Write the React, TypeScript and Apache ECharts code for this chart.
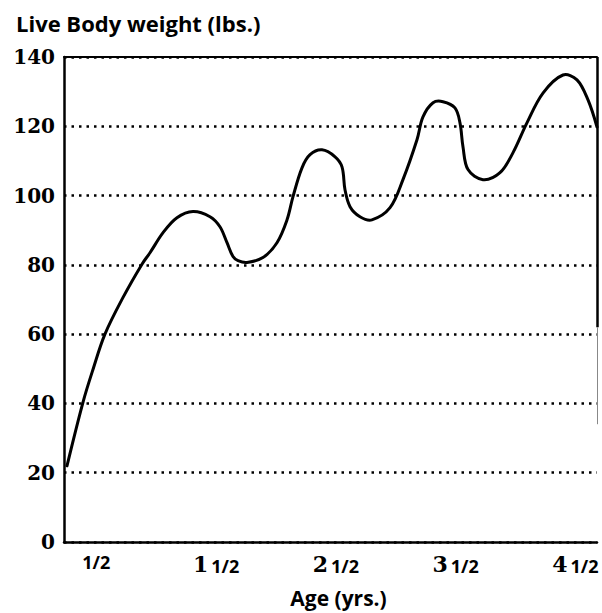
import React, { useEffect, useRef } from "react";
import * as echarts from "echarts";

const ages = [0.255, 0.389, 0.472, 0.572, 0.723, 0.881, 0.948, 1.057, 1.173, 1.307, 1.449, 1.532, 1.591, 1.641, 1.683, 1.758, 1.891, 2.008, 2.092, 2.142, 2.217, 2.284, 2.384, 2.493, 2.551, 2.576, 2.618, 2.701, 2.801, 2.952, 3.06, 3.177, 3.227, 3.311, 3.394, 3.494, 3.536, 3.561, 3.603, 3.728, 3.87, 3.979, 4.095, 4.229, 4.396, 4.513, 4.605, 4.68];
const weights = [22, 40.4, 49.8, 60, 70.6, 80.2, 83.5, 89.3, 93.6, 95.4, 93.9, 91, 86.4, 82.4, 81.2, 80.7, 82.1, 86.4, 93, 99.7, 108, 111.8, 113.2, 111.2, 108.3, 101.7, 96.8, 93.9, 93, 96.5, 104.6, 116.1, 122.7, 126.8, 127.1, 125.3, 121, 114.1, 107.5, 104.6, 106.6, 112.4, 121, 129.6, 134.8, 133.4, 127.6, 119.8];
const ageTicks = [0.5, 1.5, 2.5, 3.5, 4.5];
const ageWhole = ["", "1", "2", "3", "4"];
const yTicks = [0, 20, 40, 60, 80, 100, 120, 140];
const xMin = 0.23;
const xMax = 4.68;

export default function App() {
  const ref = useRef<HTMLDivElement>(null);
  useEffect(() => {
    if (!ref.current) return;
    const chart = echarts.init(ref.current, null, { renderer: "svg" });
    const data = ages.map((a, i) => [a, weights[i]]);
    chart.setOption({
      animation: false,
      backgroundColor: "#ffffff",
      title: {
        text: "Live Body weight (lbs.)",
        left: 11,
        top: 7,
        textStyle: { fontFamily: "Open Sans", fontWeight: "bold", fontSize: 22, color: "#000" },
      },
      grid: { left: 64, right: 5, top: 57, bottom: 70 },
      xAxis: [
        {
          type: "value",
          min: xMin,
          max: xMax,
          name: "Age (yrs.)",
          nameLocation: "middle",
          nameGap: 45,
          nameTextStyle: { fontFamily: "Open Sans", fontWeight: "bold", fontSize: 21, color: "#000", padding: [0, 0, 0, 16] },
          axisLine: { show: true, lineStyle: { color: "#000", width: 2.5 } },
          axisTick: { show: false },
          splitLine: { show: false },
          axisLabel: {
            customValues: ageTicks,
            margin: 11,
            formatter: (v: number) => {
              const idx = ageTicks.indexOf(v);
              const w = idx >= 0 ? ageWhole[idx] : "";
              return w ? `{w|${w}}{f|1/2}` : `{f|1/2}`;
            },
            rich: {
              w: { fontFamily: "DejaVu Serif", fontWeight: "bold", fontSize: 22, color: "#000", padding: [0, 3, 0, 0] },
              f: { fontFamily: "Open Sans", fontWeight: "bold", fontSize: 18, color: "#000", verticalAlign: "bottom" },
            },
          },
        },
        {
          type: "value",
          position: "top",
          min: xMin,
          max: xMax,
          axisLine: { show: true, lineStyle: { color: "#000", width: 2 } },
          axisTick: { show: false },
          axisLabel: { show: false },
          splitLine: { show: false },
        },
      ],
      yAxis: {
        type: "value",
        min: 0,
        max: 140,
        interval: 20,
        axisLine: { show: true, lineStyle: { color: "#000", width: 2.5 } },
        axisTick: { show: false },
        axisLabel: {
          margin: 9,
          color: "#000",
          fontFamily: "DejaVu Serif",
          fontWeight: "bold",
          fontSize: 20,
          formatter: (v: number) => (yTicks.includes(v) ? String(v) : ""),
        },
        splitLine: { show: true, lineStyle: { color: "#000", width: 2.5, type: [2.5, 5] } },
      },
      series: [
        {
          type: "custom",
          data,
          encode: { x: 0, y: 1 },
          renderItem: (params: any, api: any) => {
            if (params.dataIndex !== 0) return null;
            const points = data.map((d) => api.coord(d));
            return {
              type: "polyline",
              shape: { points, smooth: 0.35 },
              style: { stroke: "#000", lineWidth: 3, fill: null, lineJoin: "round", lineCap: "round" },
              silent: true,
            };
          },
          markLine: {
            silent: true,
            symbol: "none",
            label: { show: false },
            data: [
              [
                { coord: [xMax, 140], lineStyle: { color: "#000", width: 2.5, type: "solid" } },
                { coord: [xMax, 62] },
              ],
              [
                { coord: [xMax, 62], lineStyle: { color: "#888", width: 1, type: "solid" } },
                { coord: [xMax, 34] },
              ],
            ],
          },
        },
      ],
    });
    return () => chart.dispose();
  }, []);
  return <div ref={ref} style={{ position: "fixed", left: 0, top: 0, width: 602, height: 613 }} />;
}
